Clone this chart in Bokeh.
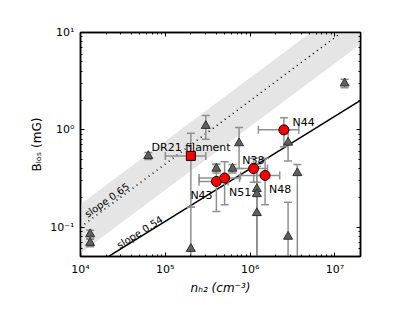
import numpy as np
from bokeh.plotting import figure
from bokeh.models import LogAxis, CustomJSTickFormatter, LogTicker, Range1d
from bokeh.embed import file_html
from bokeh.resources import INLINE
from bokeh.core.properties import value

# ---- data ----
# red circles (this work)
cores = ["N38", "N43", "N44", "N48", "N51"]
core_n = [1.1e6, 4.0e5, 2.5e6, 1.5e6, 5.0e5]
core_B = [0.40, 0.295, 1.0, 0.34, 0.32]
core_n_err = [0.5e6, 1.5e5, 1.25e6, 0.73e6, 2.5e5]
core_B_err = [0.11, 0.15, 0.33, 0.17, 0.15]

# red square
fil_name = ["DR21 filament"]
fil_n = [2.0e5]
fil_B = [0.54]
fil_n_err = [1.0e5]
fil_B_err = [0.38]

# gray triangles (literature)
lit_n = [1.3e4, 1.3e4, 6.3e4, 2.0e5, 3.0e5, 4.0e5, 6.2e5, 7.4e5,
         1.2e6, 1.2e6, 1.2e6, 2.8e6, 2.8e6, 3.6e6, 1.3e7]
lit_B = [0.085, 0.069, 0.54, 0.06, 1.1, 0.40, 0.40, 0.73,
         0.247, 0.219, 0.14, 0.74, 0.08, 0.36, 3.0]
lit_err_lo = [0.008, 0.006, 0.045, 0.10, 0.30, 0.04, 0.04, 0.33,
              0.20, 0.20, 0.15, 0.26, 0.10, 0.33, 0.30]
lit_err_hi = [0.008, 0.006, 0.045, 0.10, 0.30, 0.04, 0.04, 0.33,
              0.20, 0.20, 0.15, 0.26, 0.10, 0.08, 0.30]

# model relations
line_n = [1e4, 2e7]
dot_slope, dot_B_ref, dot_n_ref = 0.65, 0.1, 1e4
sol_slope, sol_B_ref, sol_n_ref = 0.54, 0.115, 1e5
band_up_factor = 1.72
band_lo_factor = 1.85

slope_labels = ["slope 0.65", "slope 0.54"]
slope_label_n = [1.15e4, 2.75e4]
slope_label_B = [0.133, 0.064]
slope_label_angle_deg = [35, 32]

# ---- figure ----
p = figure(width=392, height=312, x_axis_type="log", y_axis_type="log",
           x_range=Range1d(1e4, 2e7), y_range=Range1d(0.05, 10),
           output_backend="svg", toolbar_location=None,
           min_border_left=80, min_border_right=32,
           min_border_top=32, min_border_bottom=56)
p.xgrid.visible = False
p.ygrid.visible = False
p.outline_line_color = "black"
p.outline_line_width = 1.5
p.background_fill_color = "white"
p.border_fill_color = "white"

sup_js = """
const m = {'-':'\u207b','0':'\u2070','1':'\u00b9','2':'\u00b2','3':'\u00b3','4':'\u2074','5':'\u2075','6':'\u2076','7':'\u2077','8':'\u2078','9':'\u2079'};
const e = Math.round(Math.log10(tick));
return '10' + String(e).split('').map(c => m[c]).join('');
"""
fmt = CustomJSTickFormatter(code=sup_js)
blank = CustomJSTickFormatter(code="return '';")

p.add_layout(LogAxis(), "above")
p.add_layout(LogAxis(), "right")

for ax in p.axis:
    ax.ticker = LogTicker(mantissas=[1], num_minor_ticks=10)
    ax.major_tick_in = 4
    ax.major_tick_out = 0
    ax.minor_tick_in = 2
    ax.minor_tick_out = 0
    ax.axis_line_color = "black"
    ax.axis_line_width = 1.5
    ax.major_tick_line_color = "black"
    ax.minor_tick_line_color = "black"
    ax.major_label_text_font = "DejaVu Sans"
    ax.major_label_text_font_size = "11px"
    ax.major_label_text_color = "black"
    ax.major_label_standoff = 6
    ax.formatter = fmt

p.above[0].formatter = blank
p.right[0].formatter = blank
p.above[0].major_label_standoff = 0
p.right[0].major_label_standoff = 0

xax = p.below[0]
yax = p.left[0]
xax.axis_label = "nₕ₂ (cm⁻³)"
xax.axis_label_text_font_style = "italic"
xax.axis_label_standoff = 2
yax.axis_label = "Bₗₒₛ (mG)"
yax.axis_label_text_font_style = "normal"
yax.axis_label_standoff = 3
for ax in (xax, yax):
    ax.axis_label_text_font = "DejaVu Sans"
    ax.axis_label_text_font_size = "12px"
    ax.axis_label_text_color = "black"

# ---- model lines and band ----
ln = np.array(line_n)
dot_B = dot_B_ref * (ln / dot_n_ref) ** dot_slope
sol_B = sol_B_ref * (ln / sol_n_ref) ** sol_slope
p.varea(x=ln, y1=dot_B / band_lo_factor, y2=dot_B * band_up_factor,
        fill_color="#e5e5e5")
p.line(ln, dot_B, line_color="black", line_width=1.5, line_dash="1 4")
p.line(ln, sol_B, line_color="black", line_width=1.5)

# ---- error bars ----
ebc = "#8f8f8f"
def errbars(n, B, nerr, blo, bhi, cap=8):
    n = np.array(n); B = np.array(B)
    blo = np.array(blo); bhi = np.array(bhi)
    lo = np.maximum(B - blo, 1e-3)
    hi = B + bhi
    p.segment(n, lo, n, hi, line_color=ebc, line_width=1.5)
    p.scatter(np.concatenate([n, n]), np.concatenate([lo, hi]), marker="dash",
              size=cap, line_color=ebc, line_width=1.5)
    if nerr is not None:
        nerr = np.array(nerr)
        p.segment(n - nerr, B, n + nerr, B, line_color=ebc, line_width=1.5)
        p.scatter(np.concatenate([n - nerr, n + nerr]), np.concatenate([B, B]),
                  marker="dash", angle=np.pi / 2, size=cap,
                  line_color=ebc, line_width=1.5)

errbars(lit_n, lit_B, None, lit_err_lo, lit_err_hi)
errbars(fil_n, fil_B, fil_n_err, fil_B_err, fil_B_err)
errbars(core_n, core_B, core_n_err, core_B_err, core_B_err)

# ---- markers ----
p.scatter(lit_n, lit_B, marker="triangle", size=9, fill_color="#606060",
          line_color="#303030", line_width=1)
p.scatter(fil_n, fil_B, marker="square", size=9, fill_color="red",
          line_color="black", line_width=1)
p.scatter(core_n, core_B, marker="circle", size=10, fill_color="red",
          line_color="black", line_width=1)

# ---- labels ----
core_dx = [-11.5, -26, 8.7, 4, 4.3]
core_dy = [-8.3, 14.3, -7.5, 14.3, 14.4]
p.text(core_n, core_B, text=cores, x_offset=core_dx, y_offset=core_dy,
       text_font=value("DejaVu Sans"), text_font_size="11px",
       text_color="black", text_baseline="alphabetic", text_align="left")
p.text(fil_n, fil_B, text=fil_name, x_offset=[-39.3], y_offset=[-8],
       text_font=value("DejaVu Sans"), text_font_size="11px",
       text_color="black", text_baseline="alphabetic", text_align="left")
p.text(slope_label_n, slope_label_B, text=slope_labels,
       angle=np.deg2rad(slope_label_angle_deg),
       text_font=value("DejaVu Sans"), text_font_size="10px",
       text_color="black", text_baseline="alphabetic", text_align="left")

open("out.html", "w").write(file_html(p, INLINE))
